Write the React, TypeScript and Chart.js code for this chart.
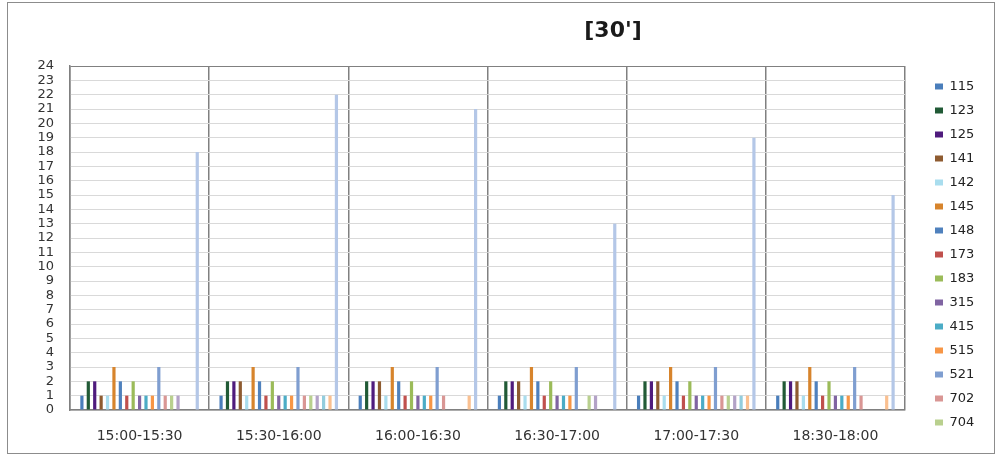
import React, { useEffect, useRef } from "react";
import { Chart, registerables } from "chart.js";

Chart.register(...registerables);

const TITLE = "[30']";
const categories = ["15:00-15:30", "15:30-16:00", "16:00-16:30", "16:30-17:00", "17:00-17:30", "18:30-18:00"];
const seriesLabels = ["115", "123", "125", "141", "142", "145", "148", "173", "183", "315", "415", "515", "521", "702", "704", "", "", "", ""];
const seriesColors = [
  "#4A7EBB", "#215A36", "#4F1B7D", "#8E5B30", "#A9DDEE", "#D7842C", "#4F81BD", "#C0504D", "#9BBB59",
  "#8064A2", "#4BACC6", "#F79646", "#7F9ED0", "#D99694", "#B9D08E", "#B3A2C7", "#93CDDD", "#FAC090", "#B4C7E7",
];
// values per group (one row per category, one entry per series)
const g1 = [1, 2, 2, 1, 1, 3, 2, 1, 2, 1, 1, 1, 3, 1, 1, 1, 0, 0, 18];
const g2 = [1, 2, 2, 2, 1, 3, 2, 1, 2, 1, 1, 1, 3, 1, 1, 1, 1, 1, 22];
const g3 = [1, 2, 2, 2, 1, 3, 2, 1, 2, 1, 1, 1, 3, 1, 0, 0, 0, 1, 21];
const g4 = [1, 2, 2, 2, 1, 3, 2, 1, 2, 1, 1, 1, 3, 0, 1, 1, 0, 0, 13];
const g5 = [1, 2, 2, 2, 1, 3, 2, 1, 2, 1, 1, 1, 3, 1, 1, 1, 1, 1, 19];
const g6 = [1, 2, 2, 2, 1, 3, 2, 1, 2, 1, 1, 1, 3, 1, 0, 0, 0, 1, 15];
const groups = [g1, g2, g3, g4, g5, g6];
const yTicks = { min: 0, max: 24, step: 1 };

const FONT = "'DejaVu Sans', Verdana, sans-serif";

const titlePlugin = {
  id: "fixedTitle",
  afterDraw(chart: any) {
    const ctx = chart.ctx;
    ctx.save();
    ctx.font = `bold 22px ${FONT}`;
    ctx.fillStyle = "#1a1a1a";
    ctx.textAlign = "center";
    ctx.textBaseline = "middle";
    ctx.fillText(TITLE, 613, 31);
    ctx.restore();
  },
};

const legendFitPlugin = {
  id: "legendFit",
  beforeLayout(chart: any) {
    const lg = chart.legend;
    if (lg && !lg.__patched) {
      const orig = lg.fit;
      lg.fit = function () {
        orig.call(this);
        this.width = 94;
      };
      lg.__patched = true;
    }
  },
  afterLayout(chart: any) {
    const lg = chart.legend;
    if (lg) {
      lg.left += 19;
      lg.right += 19;
      lg.top += 3;
      lg.bottom += 3;
    }
  },
};

export default function App() {
  const ref = useRef<HTMLCanvasElement | null>(null);
  useEffect(() => {
    if (!ref.current) return;
    const datasets = seriesLabels.map((label, si) => ({
      label,
      data: groups.map((g) => g[si]),
      backgroundColor: seriesColors[si],
      borderWidth: 0,
      barPercentage: 0.5,
      categoryPercentage: 0.875,
    }));
    const chart = new Chart(ref.current, {
      type: "bar",
      data: { labels: categories, datasets },
      options: {
        animation: false,
        responsive: true,
        maintainAspectRatio: false,
        layout: { padding: { top: 66, left: 0, right: 0, bottom: 0 } },
        plugins: {
          tooltip: { enabled: false },
          title: { display: false },
          legend: {
            position: "right",
            align: "start",
            labels: {
              boxWidth: 8,
              boxHeight: 6,
              padding: 11,
              color: "#222",
              font: { family: FONT, size: 13 },
              filter: (item: any) => item.datasetIndex < 15,
            },
          },
        },
        scales: {
          x: {
            grid: { offset: true, color: "#808080", lineWidth: 1.5, drawTicks: false },
            border: { color: "#808080", width: 1.5 },
            ticks: { padding: 18, color: "#333", font: { family: FONT, size: 14 } },
            afterFit: (s: any) => {
              s.height = 44;
            },
          },
          y: {
            min: yTicks.min,
            max: yTicks.max,
            ticks: { stepSize: yTicks.step, padding: 16, autoSkip: false, color: "#333", font: { family: FONT, size: 13 } },
            grid: {
              drawTicks: false,
              color: (c: any) => (c.tick && c.tick.value === yTicks.max ? "#808080" : "#d9d9d9"),
            },
            border: { color: "#808080", width: 1.5 },
            afterFit: (s: any) => {
              s.width = 70;
            },
          },
        },
      },
      plugins: [titlePlugin, legendFitPlugin],
    });
    return () => chart.destroy();
  }, []);
  return (
    <div style={{ position: "fixed", left: 0, top: 0, width: 999, height: 454, background: "#fff" }}>
      <canvas ref={ref} />
      <div
        style={{
          position: "absolute",
          left: 7,
          top: 2,
          width: 988,
          height: 452,
          border: "1.5px solid #8c8c8c",
          pointerEvents: "none",
          boxSizing: "border-box",
        }}
      />
    </div>
  );
}
